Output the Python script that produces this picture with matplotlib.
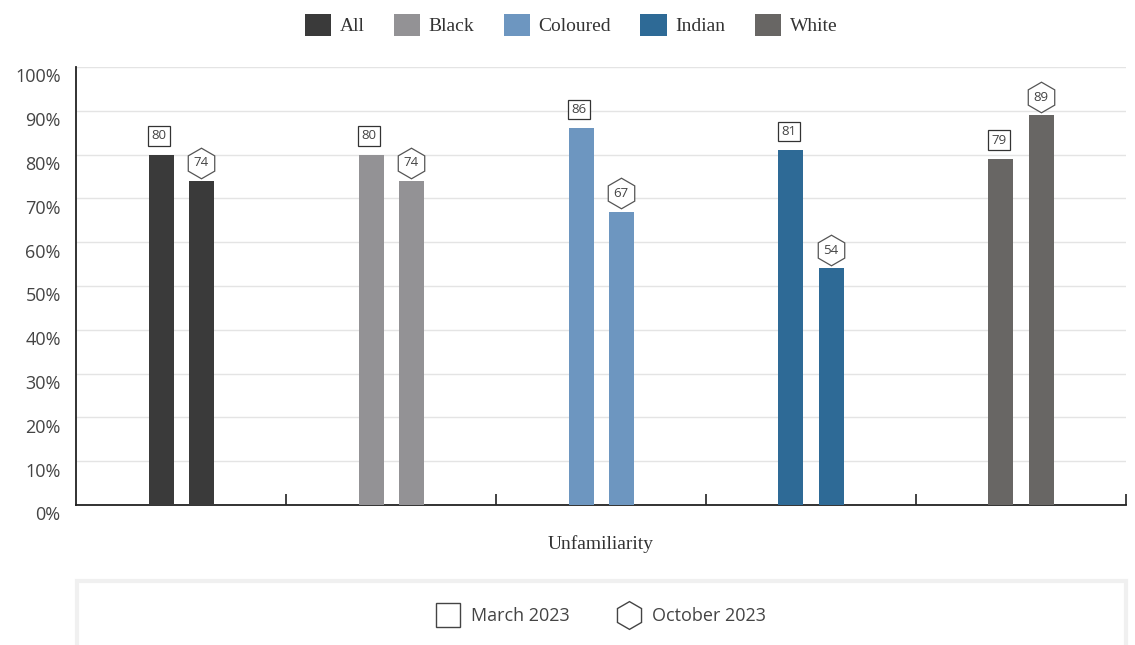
import matplotlib
matplotlib.use("Agg")
import matplotlib.pyplot as plt
from matplotlib.patches import Patch, Rectangle
from matplotlib.lines import Line2D
from matplotlib.transforms import offset_copy, ScaledTranslation

groups = ["All", "Black", "Coloured", "Indian", "White"]
march_2023 = [80, 80, 86, 81, 79]
october_2023 = [74, 74, 67, 54, 89]
colors = ["#3a3a3a", "#939295", "#6d96c0", "#2e6a96", "#686664"]
y_ticks = [0, 10, 20, 30, 40, 50, 60, 70, 80, 90, 100]
x_title = "Unfamiliarity"
period_labels = ["March 2023", "October 2023"]

SANS = ["Open Sans", "DejaVu Sans"]
SERIF = ["Liberation Serif", "DejaVu Serif"]
TXT = "#444444"

fig = plt.figure(figsize=(11.35, 6.45), dpi=100)
ax = fig.add_axes([76 / 1135, 1 - 505 / 645, 1050 / 1135, 438 / 645])

xs = list(range(len(groups)))
w = 25 / 210
off = 20 / 210
for i, g in enumerate(groups):
    ax.bar(i - off, march_2023[i], width=w, color=colors[i], zorder=3)
    ax.bar(i + off, october_2023[i], width=w, color=colors[i], zorder=3)

# labels
tr_box = offset_copy(ax.transData, fig=fig, x=-1.5, y=13.5, units="points")
tr_hex = offset_copy(ax.transData, fig=fig, x=0, y=13, units="points")
for i in xs:
    ax.text(i - off, march_2023[i], str(march_2023[i]), transform=tr_box,
            ha="center", va="center", fontsize=9.5, family=SANS, color=TXT,
            bbox=dict(boxstyle="square,pad=0.25", fc="white", ec="#333333", lw=0.9),
            zorder=5)
    ax.plot([i + off], [october_2023[i]], marker="h", markersize=22,
            mfc="white", mec="#555555", mew=0.9, transform=tr_hex, zorder=4,
            clip_on=False)
    ax.text(i + off, october_2023[i], str(october_2023[i]), transform=tr_hex,
            ha="center", va="center", fontsize=9.5, family=SANS, color=TXT,
            zorder=5)

ax.set_xlim(-0.5, len(groups) - 0.5)
ax.set_ylim(0, 100)
ax.set_yticks(y_ticks)
ax.set_yticklabels([f"{v}%" for v in y_ticks], family=SANS, fontsize=13, color=TXT)
ax.tick_params(axis="y", length=0, pad=11)
shift = ScaledTranslation(0, -6 / 72, fig.dpi_scale_trans)
for lbl in ax.get_yticklabels():
    lbl.set_transform(lbl.get_transform() + shift)
ax.yaxis.grid(True, color="#e4e4e4", lw=1, zorder=0)
ax.set_axisbelow(True)

ax.set_xticks([i + 0.5 for i in xs])
ax.set_xticklabels([])
ax.tick_params(axis="x", direction="in", length=8, width=1.2, color="#222222")

for s in ["top", "right"]:
    ax.spines[s].set_visible(False)
ax.spines["left"].set_color("#222222")
ax.spines["left"].set_linewidth(1.3)
ax.spines["bottom"].set_color("#222222")
ax.spines["bottom"].set_linewidth(1.3)

ax.set_xlabel(x_title, family=SERIF, fontsize=14, color="#333333", labelpad=18)

# top legend
handles = [Patch(facecolor=c, edgecolor="none") for c in colors]
fig.legend(handles, groups, loc="center", bbox_to_anchor=(571 / 1135, 1 - 25 / 645),
           ncol=5, frameon=False, prop={"family": SERIF, "size": 14},
           handlelength=1.35, handleheight=1.35, handletextpad=0.45,
           columnspacing=1.5, labelcolor="#333333")

# bottom legend box
fig.patches.append(Rectangle((77 / 1135, -0.05), 1049 / 1135, 0.05 + 1 - 581 / 645,
                             transform=fig.transFigure, fill=False,
                             ec="#f0f0f0", lw=3))
h2 = [Line2D([], [], ls="none", marker="s", markersize=17, mfc="white",
             mec="#444444", mew=1),
      Line2D([], [], ls="none", marker="h", markersize=20, mfc="white",
             mec="#444444", mew=1)]
fig.legend(h2, period_labels, loc="center", bbox_to_anchor=(601 / 1135, 1 - 616 / 645),
           ncol=2, frameon=False, prop={"family": SANS, "size": 13},
           labelcolor=TXT, handlelength=1.3, handletextpad=0.65, columnspacing=2.6)

fig.savefig("out.png", dpi=100, facecolor="white")
